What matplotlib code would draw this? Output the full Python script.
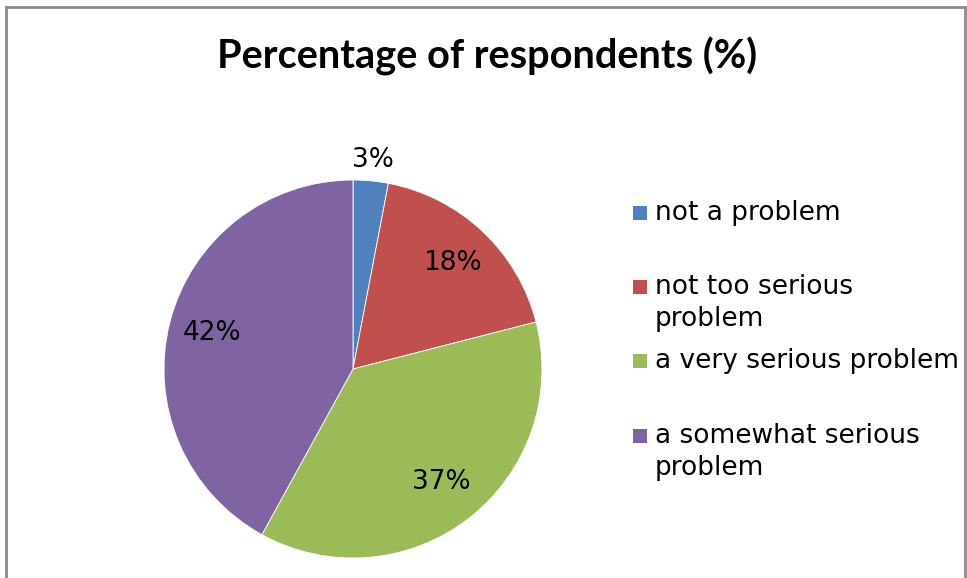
import matplotlib
matplotlib.use("Agg")
import matplotlib.pyplot as plt
from matplotlib.patches import Rectangle
import numpy as np

# data
categories = ["not a problem", "not too serious\nproblem",
              "a very serious problem", "a somewhat serious\nproblem"]
values = [3, 18, 37, 42]
colors = ["#4F81BD", "#C0504D", "#9BBB59", "#8064A2"]
label_radius = [1.11, 0.77, 0.76, 0.77]

W, H = 967, 578
fig = plt.figure(figsize=(W / 100, H / 100), dpi=100)

# grey chart frame (top, left, right only - bottom is cropped in the original)
frame = dict(color="#8c8c8c", lw=2, transform=fig.transFigure)
fig.add_artist(plt.Line2D([6 / W, 6 / W], [0, 1 - 7 / H], **frame))
fig.add_artist(plt.Line2D([6 / W, 965 / W], [1 - 7 / H, 1 - 7 / H], **frame))
fig.add_artist(plt.Line2D([965 / W, 965 / W], [0, 1 - 7 / H], **frame))

fig.text(487 / W, 1 - 56 / H, "Percentage of respondents (%)",
         ha="center", va="center", fontsize=28.6, fontweight="bold",
         family="Lato")

# pie: centre (353, 369), radius 189 px
R = 189
ax = fig.add_axes([(353 - R) / W, (H - 369 - R) / H, 2 * R / W, 2 * R / H])
wedges, _ = ax.pie(values, colors=colors, startangle=90, counterclock=False,
                   radius=1, wedgeprops=dict(edgecolor="white", linewidth=0.6))
ax.set_xlim(-1, 1)
ax.set_ylim(-1, 1)
ax.set_aspect("equal")
ax.axis("off")

for w, v, r in zip(wedges, values, label_radius):
    mid = np.deg2rad((w.theta1 + w.theta2) / 2)
    ax.text(r * np.cos(mid), r * np.sin(mid), f"{v}%", ha="center",
            va="center", fontsize=19, family="DejaVu Sans", clip_on=False)

# legend, Excel style: square marker + wrapped label
legend_y = [213, 303, 361, 452]
for name, c, y in zip(categories, colors, legend_y):
    n_lines = name.count("\n") + 1
    top = y - 16 * (n_lines - 1)
    fig.add_artist(Rectangle((633 / W, 1 - (top + 7) / H), 14 / W, 14 / H,
                             facecolor=c, edgecolor="none",
                             transform=fig.transFigure))
    fig.text(655 / W, 1 - y / H, name, ha="left", va="center",
             fontsize=19, family="DejaVu Sans", linespacing=1.32)

plt.savefig("out.png", dpi=100)
plt.close()
